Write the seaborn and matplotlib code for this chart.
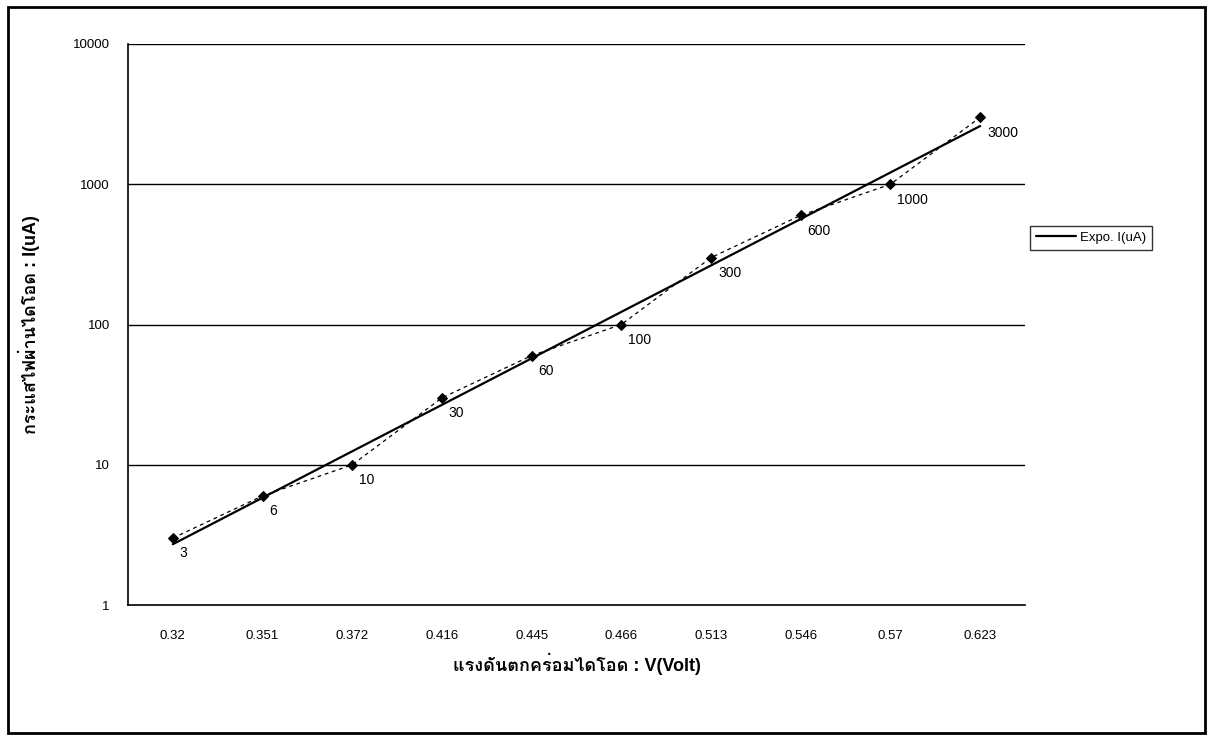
import numpy as np
import pandas as pd
import matplotlib
matplotlib.use("Agg")
import matplotlib.pyplot as plt
from matplotlib import font_manager
from matplotlib.ft2font import FT2Font
from matplotlib.patches import Rectangle
import seaborn as sns

# Diode forward voltage (category labels) and measured current in uA
voltage_labels = ["0.32", "0.351", "0.372", "0.416", "0.445",
                  "0.466", "0.513", "0.546", "0.57", "0.623"]
current_ua = [3, 6, 10, 30, 60, 100, 300, 600, 1000, 3000]
y_ticks = [1, 10, 100, 1000, 10000]
y_tick_labels = ["1", "10", "100", "1000", "10000"]

title_x = "แรงดันตกคร่อมไดโอด : V(Volt)"
title_y = "กระแสไฟผ่านไดโอด : I(uA)"
legend_text = "Expo. I(uA)"


def find_thai_font():
    for f in font_manager.fontManager.ttflist:
        try:
            cmap = FT2Font(f.fname).get_charmap()
        except Exception:
            continue
        if 0x0E01 in cmap and 0x0E14 in cmap:
            return f.name
    return None


sns.set_theme(style="white")
base = "Liberation Sans"
thai = find_thai_font()
families = [base] + ([thai] if thai else []) + ["DejaVu Sans"]
plt.rcParams["font.family"] = families
for key in ["text.color", "axes.labelcolor", "xtick.color", "ytick.color"]:
    plt.rcParams[key] = "black"

df = pd.DataFrame({"pos": np.arange(1, len(current_ua) + 1), "current": current_ua})

# Exponential trendline fitted on category index (log-linear least squares)
slope, intercept = np.polyfit(df["pos"], np.log(df["current"]), 1)
trend = pd.DataFrame({"pos": np.linspace(1, len(current_ua), 200)})
trend["current"] = np.exp(intercept + slope * trend["pos"])

fig = plt.figure(figsize=(12.13, 7.40), dpi=100)
ax = fig.add_axes([128 / 1213, 1 - 605 / 740, 897 / 1213, 561 / 740])

ax.set_yscale("log")
ax.set_ylim(1, 10000)
ax.set_xlim(0.5, len(current_ua) + 0.5)

for yv in y_ticks[1:]:
    ax.axhline(yv, color="black", lw=1.0, zorder=1)

sns.lineplot(data=df, x="pos", y="current", ax=ax, color="black", lw=0.9,
             linestyle=(0, (3, 3)), marker="D", markersize=5,
             markeredgecolor="black", markerfacecolor="black", zorder=3)
sns.lineplot(data=trend, x="pos", y="current", ax=ax, color="black", lw=1.6,
             label=legend_text, zorder=2)

for p, v in zip(df["pos"], df["current"]):
    ax.annotate(f"{v}", (p, v), xytext=(5, -6), textcoords="offset points",
                ha="left", va="top", fontsize=10, color="black")

ax.set_yticks(y_ticks)
ax.set_yticklabels(y_tick_labels)
ax.yaxis.set_minor_locator(matplotlib.ticker.NullLocator())
ax.set_xticks(df["pos"])
ax.set_xticklabels(voltage_labels)
ax.set_xticks(np.arange(0.5, len(current_ua) + 1.0, 1.0), minor=True)
ax.tick_params(axis="x", which="major", length=0, pad=18, labelsize=9.5)
ax.tick_params(axis="x", which="minor", length=5, width=1, direction="out", color="black")
ax.tick_params(axis="y", which="major", length=5, width=1, direction="out", color="black",
               labelsize=9.5, pad=8)

for side in ["top", "right"]:
    ax.spines[side].set_visible(False)
for side in ["left", "bottom"]:
    ax.spines[side].set_color("black")
    ax.spines[side].set_linewidth(1.2)

ax.set_xlabel(title_x, fontsize=13, fontweight="bold", labelpad=8)
ax.set_ylabel(title_y, fontsize=13, fontweight="bold", labelpad=24)

leg = ax.legend(loc="upper left", bbox_to_anchor=(1.006, 0.676), frameon=True,
                fancybox=False, edgecolor="black", fontsize=9.5, handlelength=3.0,
                handletextpad=0.3, borderpad=0.45, borderaxespad=0)
leg.get_frame().set_linewidth(1.0)

fig.patches.append(Rectangle((8 / 1213, 7 / 740), 1197 / 1213, 726 / 740,
                             transform=fig.transFigure, fill=False,
                             edgecolor="black", lw=2))

fig.savefig("out.png", dpi=100)
